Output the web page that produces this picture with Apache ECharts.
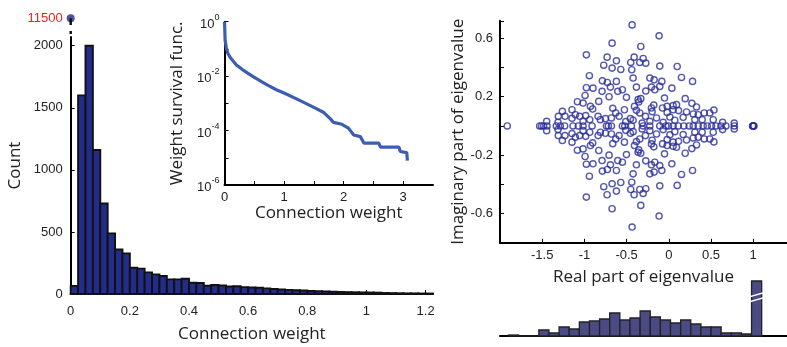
<!DOCTYPE html>
<html>
<head>
<meta charset="utf-8">
<script src="https://cdn.jsdelivr.net/npm/echarts@6/dist/echarts.min.js"></script>
<style>
  html, body { margin: 0; padding: 0; background: #fff; }
  #chart { width: 787px; height: 347px; }
</style>
</head>
<body>
<div id="chart"></div>
<script>
// histogram of connection weights, bins of 0.025 from 0
const weightBinWidth = 0.025
const weightCounts = [64, 1600, 2000, 1160, 729, 488, 359, 327, 212, 204, 174, 158, 145, 118, 118, 123,
  91, 88, 67, 72, 68, 60, 62, 55, 52, 50, 45, 40, 36, 33, 30, 28, 24, 22, 20, 18, 17, 15, 14, 13,
  12, 11, 8, 7, 6, 5, 5, 4, 4]
const zeroWeightCount = 11500

// inset: survival function of weights
const survX = [0, 0.005, 0.01, 0.03, 0.056, 0.1, 0.2, 0.3, 0.48, 0.7, 0.87, 1.0, 1.27, 1.5, 1.66, 1.72,
  1.77, 1.83, 1.97, 2.08, 2.17, 2.28, 2.34, 2.59, 2.62, 2.93, 2.95, 3.06, 3.07]
const survY = [1, 0.5, 0.214, 0.112, 0.069, 0.047, 0.0257, 0.0174, 0.00955, 0.005, 0.00316, 0.0024,
  0.00126, 0.00071, 0.00047, 0.000355, 0.00028, 0.0002, 0.00017, 0.000123, 0.000069, 0.00006,
  0.0000347, 0.0000347, 0.0000245, 0.0000245, 0.000017, 0.0000155, 0.0000079]

// eigenvalues: real ones and the upper half of the complex pairs (conjugates mirrored)
const eigReal = [-1.914, -1.53, -1.507, -1.483, -1.443, -1.333, -1.285, -1.234, -1.135, -1.072, -1.016,
  -0.909, -0.739, -0.716, -0.68, -0.55, -0.522, -0.443, -0.304, -0.225, -0.107, -0.036, -0.004,
  0.051, 0.111, 0.178, 0.241, 0.289, 0.348, 0.407, 0.455, 0.506, 0.558, 0.617, 0.676, 0.775,
  0.992, 0.997, 1.0, 1.004, 1.008]
const eigUpper = [
  [-0.435, 0.692], [-0.115, 0.617], [-0.672, 0.567], [-0.332, 0.544], [-0.977, 0.487], [-0.731, 0.471],
  [-0.411, 0.471], [-0.304, 0.462], [-0.621, 0.446], [-0.451, 0.435], [-0.344, 0.435], [-0.273, 0.43],
  [-0.771, 0.416], [-0.672, 0.396], [-0.569, 0.387], [-0.439, 0.385], [-0.107, 0.41], [0.099, 0.407],
  [-0.941, 0.344], [-0.423, 0.328], [-0.225, 0.328], [-0.174, 0.316], [0.15, 0.332], [-0.787, 0.309],
  [-0.728, 0.298], [-0.621, 0.305], [-0.083, 0.305], [0.281, 0.305], [-0.692, 0.266], [-0.977, 0.262],
  [-0.898, 0.259], [-0.384, 0.266], [-0.206, 0.266], [-0.107, 0.271], [0.036, 0.259], [-0.791, 0.237],
  [-0.605, 0.237], [-0.55, 0.248], [-0.273, 0.239], [-0.166, 0.248], [-0.992, 0.209], [-0.708, 0.2],
  [-0.502, 0.196], [-0.051, 0.191], [0.194, 0.187], [-0.364, 0.18], [-0.332, 0.187], [-0.356, 0.164],
  [-1.083, 0.166], [-1.016, 0.157], [-0.83, 0.168], [0.091, 0.146], [0.273, 0.155], [-0.929, 0.134],
  [-0.902, 0.116], [-0.664, 0.121], [-0.526, 0.111], [-0.407, 0.134], [-0.206, 0.123], [-0.178, 0.143],
  [-0.075, 0.123], [-0.02, 0.134], [0.051, 0.139], [0.328, 0.13], [0.051, 0.111], [-1.261, 0.1],
  [-1.147, 0.111], [-0.629, 0.089], [-0.589, 0.066], [-0.384, 0.107], [-0.344, 0.089], [-0.198, 0.098],
  [-0.02, 0.093], [0.115, 0.105], [0.21, 0.096], [0.289, 0.082], [0.348, 0.077], [0.419, 0.089],
  [0.534, 0.109], [0.486, 0.089], [-1.309, 0.066], [-1.23, 0.066], [-1.056, 0.066], [-0.985, 0.071],
  [-0.838, 0.066], [-0.751, 0.05], [-0.455, 0.05], [-0.277, 0.066], [-0.146, 0.055], [0.012, 0.061],
  [0.17, 0.059], [0.308, 0.043], [0.395, 0.043], [0.526, 0.043], [0.637, 0.025], [0.071, 0.039],
  [-1.147, 0.052], [-1.107, 0.077], [-1.016, 0.032], [-0.937, 0.043], [-0.811, 0.043], [-0.68, 0.055],
  [-0.51, 0.03], [-0.423, 0.039], [-0.316, 0.02], [-0.225, 0.032], [-0.067, 0.025], [-1.447, 0.032],
  [-1.313, 0.025], [0.775, 0.02]
]

// histogram of real parts, bins of 0.12 from -1.9 (last bin is cut off)
const eigBinStart = -1.9
const eigBinWidth = 0.12
const eigCounts = [1, 0, 0, 6, 3, 9, 7, 14, 15, 17, 23, 16, 18, 25, 19, 16, 13, 16, 12, 9, 9, 3, 3, 2, 120]

const tickFont = { color: '#222', fontFamily: 'Liberation Sans', fontSize: 13 }
const nameFont = { color: '#222', fontFamily: 'Open Sans', fontSize: 17 }
const axisLine = { show: true, onZero: false, lineStyle: { color: '#000', width: 2 } }
const axisTick = { show: true, inside: true, length: 4, lineStyle: { color: '#000', width: 1 } }

const weightBars = weightCounts.map((n, i) => [i * weightBinWidth, (i + 1) * weightBinWidth, n])
const eigBars = eigCounts.map((n, i) => [eigBinStart + i * eigBinWidth, eigBinStart + (i + 1) * eigBinWidth, n])
const eigPoints = eigReal.map(r => [r, 0])
  .concat(eigUpper)
  .concat(eigUpper.map(p => [p[0], -p[1]]))

function barItem(fill, stroke, lw) {
  return function (params, api) {
    const p0 = api.coord([api.value(0), 0])
    const p1 = api.coord([api.value(1), api.value(2)])
    const top = Math.max(p1[1], params.coordSys.y)
    const rect = {
      type: 'rect',
      shape: { x: p0[0], y: top, width: p1[0] - p0[0], height: p0[1] - top },
      style: { fill: fill, stroke: stroke, lineWidth: lw }
    }
    if (p1[1] >= params.coordSys.y) return rect
    // cut bar: draw the break marks
    const x0 = p0[0] - 2, x1 = p1[0] + 2
    const b1 = api.coord([0, 42])[1], b2 = api.coord([0, 37])[1]
    const gap = (yb) => ({
      type: 'polygon',
      shape: { points: [[x0, yb + 2], [x1, yb - 2], [x1, yb - 0.5], [x0, yb + 3.5]] },
      style: { fill: '#fff' }
    })
    return { type: 'group', children: [rect, gap(b1), gap(b2)] }
  }
}

const chart = echarts.init(document.getElementById('chart'))

const option = {
  backgroundColor: '#fff',
  animation: false,
  grid: [
    { left: 70.7, top: 37, width: 362.3, height: 257, outerBoundsMode: 'none' },
    { left: 70.7, top: 12, width: 362.3, height: 22, outerBoundsMode: 'none' },
    { left: 224.5, top: 21.7, width: 208.5, height: 163.3, outerBoundsMode: 'none' },
    { left: 500, top: 20.8, width: 287, height: 222, outerBoundsMode: 'none' },
    { left: 500, top: 281, width: 287, height: 55, outerBoundsMode: 'none' }
  ],
  xAxis: [
    {
      gridIndex: 0, type: 'value', min: 0, max: 1.225, interval: 0.2,
      axisLine, axisTick, splitLine: { show: false },
      axisLabel: {
        ...tickFont, margin: 11, showMaxLabel: false,
        formatter: v => Math.abs(v / 0.2 - Math.round(v / 0.2)) < 1e-6 ? String(Math.round(v * 10) / 10) : ''
      },
      name: 'Connection weight', nameLocation: 'middle', nameGap: 32, nameTextStyle: nameFont
    },
    { gridIndex: 1, type: 'value', min: 0, max: 1.225, show: false },
    {
      gridIndex: 2, type: 'value', min: 0, max: 3.5, interval: 0.5,
      axisLine, axisTick, splitLine: { show: false },
      axisLabel: { ...tickFont, margin: 6, showMaxLabel: false, formatter: v => Number.isInteger(v) ? String(v) : '' },
      name: 'Connection weight', nameLocation: 'middle', nameGap: 19, nameTextStyle: nameFont
    },
    {
      gridIndex: 3, type: 'value', min: -2, max: 1.4, interval: 0.5,
      axisLine, axisTick, splitLine: { show: false },
      axisLabel: { ...tickFont, margin: 6, showMinLabel: false, showMaxLabel: false, formatter: v => String(v) },
      name: 'Real part of eigenvalue', nameLocation: 'middle', nameGap: 26, nameTextStyle: nameFont
    },
    {
      gridIndex: 4, type: 'value', min: -2, max: 1.4,
      axisLine, axisTick: { show: false }, axisLabel: { show: false }, splitLine: { show: false }
    }
  ],
  yAxis: [
    {
      gridIndex: 0, type: 'value', min: 0, max: 2070, interval: 500,
      axisLine, axisTick, splitLine: { show: false },
      axisLabel: { ...tickFont, margin: 8, showMaxLabel: false, formatter: v => String(v) },
      name: 'Count', nameLocation: 'middle', nameGap: 47, nameTextStyle: nameFont
    },
    {
      // short axis above the break, only carries the red 11500 label
      gridIndex: 1, type: 'value', min: 11440, max: 11524, interval: 20,
      axisLine: { show: false }, axisTick: { show: false }, splitLine: { show: false },
      axisLabel: {
        ...tickFont, color: '#ff1a1a', margin: 8, padding: [0, 0, 8, 0],
        showMinLabel: false, showMaxLabel: false,
        formatter: v => v === zeroWeightCount ? String(v) : ''
      }
    },
    {
      gridIndex: 2, type: 'log', logBase: 10, min: 1e-6, max: 1, splitNumber: 6,
      axisLine, axisTick, splitLine: { show: false }, minorTick: { show: false },
      axisLabel: {
        margin: 5,
        formatter: v => {
          const e = Math.round(Math.log10(v))
          return e % 2 === 0 ? '{b|10}{s|' + e + '}' : ''
        },
        rich: {
          b: { ...tickFont, lineHeight: 18, verticalAlign: 'bottom' },
          s: { ...tickFont, fontSize: 9, lineHeight: 18, verticalAlign: 'top' }
        }
      },
      name: 'Weight survival func.', nameLocation: 'middle', nameGap: 39, nameTextStyle: nameFont
    },
    {
      gridIndex: 3, type: 'value', min: -0.8, max: 0.72, interval: 0.2,
      axisLine, axisTick, splitLine: { show: false },
      axisLabel: {
        ...tickFont, margin: 7,
        formatter: v => {
          const r = Math.round(v * 10) / 10
          return Math.abs(v - r) < 1e-6 && [-0.6, -0.2, 0.2, 0.6].includes(r) ? String(r) : ''
        }
      },
      name: 'Imaginary part of eigenvalue', nameLocation: 'middle', nameGap: 32, nameTextStyle: nameFont
    },
    { gridIndex: 4, type: 'value', min: 0, max: 55, show: false }
  ],
  series: [
    {
      type: 'custom', xAxisIndex: 0, yAxisIndex: 0, data: weightBars,
      renderItem: barItem('#242c8a', '#111', 1.9), z: 3
    },
    {
      type: 'line', xAxisIndex: 1, yAxisIndex: 1, symbol: 'none',
      data: [[0, 11440], [0, zeroWeightCount]],
      lineStyle: { color: '#111', width: 2.5, type: [3, 6, 20] }
    },
    {
      type: 'scatter', xAxisIndex: 1, yAxisIndex: 1, symbol: 'circle', symbolSize: 8,
      data: [[0, zeroWeightCount]],
      itemStyle: { color: '#1f2a80' }
    },
    {
      type: 'line', xAxisIndex: 2, yAxisIndex: 2, symbol: 'none',
      data: survX.map((x, i) => [x, survY[i]]),
      lineStyle: { color: '#3d5db3', width: 3.2 }
    },
    {
      type: 'scatter', xAxisIndex: 3, yAxisIndex: 3, symbol: 'circle', symbolSize: 6.2,
      data: eigPoints,
      itemStyle: { color: 'rgba(0,0,0,0)', borderColor: '#2a2e9a', borderWidth: 1.4 }
    },
    {
      type: 'custom', xAxisIndex: 4, yAxisIndex: 4, data: eigBars,
      renderItem: barItem('#4a4a85', '#222', 1.3), z: 3
    }
  ]
}

option && chart.setOption(option)
</script>
</body>
</html>
